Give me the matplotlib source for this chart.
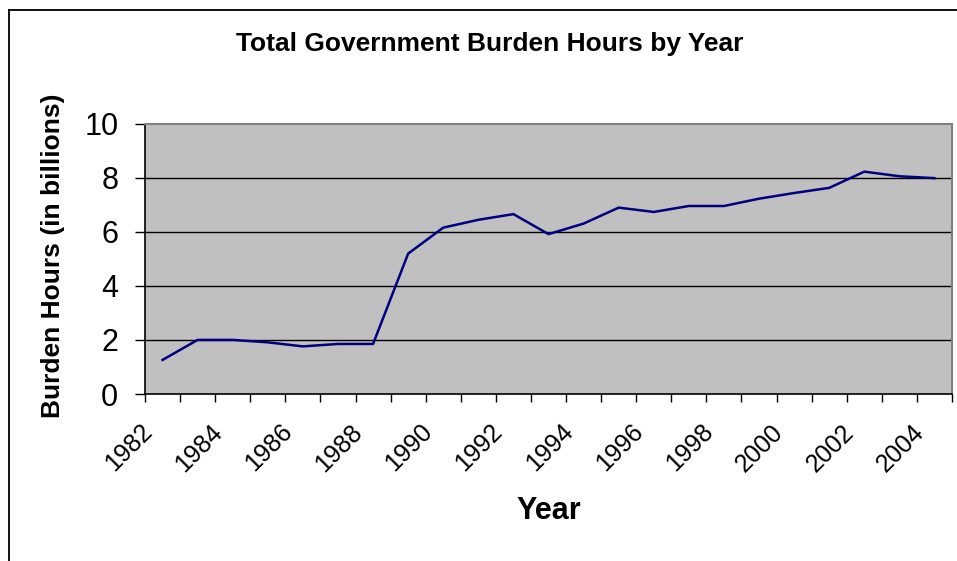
import matplotlib
matplotlib.use("Agg")
import matplotlib.pyplot as plt
from matplotlib.transforms import ScaledTranslation
import numpy as np

years = list(range(1982, 2005))
burden_hours = [1.26, 2.0, 2.0, 1.91, 1.76, 1.85, 1.85, 5.19, 6.15, 6.44, 6.65,
                5.91, 6.30, 6.89, 6.73, 6.95, 6.95, 7.22, 7.43, 7.62, 8.22, 8.05, 7.98]
y_ticks = [0, 2, 4, 6, 8, 10]

plt.rcParams["font.family"] = ["Liberation Sans", "DejaVu Sans"]

fig = plt.figure(figsize=(9.57, 5.61), dpi=100)

# outer chart frame (Excel style)
fig.add_artist(plt.Line2D([8.5 / 957, 8.5 / 957], [0, 1 - 10 / 561],
                          color="black", lw=1.3, transform=fig.transFigure))
fig.add_artist(plt.Line2D([8.5 / 957, 1], [1 - 10 / 561, 1 - 10 / 561],
                          color="black", lw=1.3, transform=fig.transFigure))

ax = fig.add_axes([145 / 957, 1 - 394 / 561, 807 / 957, 270.5 / 561])
ax.set_facecolor("#C0C0C0")

x = np.arange(len(years))
ax.plot(x, burden_hours, color="#000080", lw=1.8)

ax.set_xlim(-0.5, len(years) - 0.5)
ax.set_ylim(0, 10)
ax.set_yticks(y_ticks)
ax.set_yticklabels([str(v) for v in y_ticks], fontsize=22)
for v in y_ticks[1:-1]:
    ax.axhline(v, color="black", lw=1.0, zorder=1)

ax.set_xticks(x[::2])
ax.set_xticklabels([str(y) for y in years[::2]], rotation=45, ha="right",
                   va="top", rotation_mode="anchor", fontsize=18)
ax.tick_params(axis="x", which="major", length=0, pad=18.5)
shift = ScaledTranslation(-23 / 100, 0, fig.dpi_scale_trans)
for lbl in ax.get_xticklabels():
    lbl.set_transform(lbl.get_transform() + shift)
ax.set_xticks(np.arange(-0.5, len(years)), minor=True)
ax.tick_params(axis="x", which="minor", length=5.8, width=1, direction="out")
ax.tick_params(axis="y", length=7.2, width=1, direction="out", pad=12)

for side in ["top", "right"]:
    ax.spines[side].set_color("#808080")
    ax.spines[side].set_linewidth(1.5)
for side in ["left", "bottom"]:
    ax.spines[side].set_color("black")
    ax.spines[side].set_linewidth(1.2)

ax.set_ylabel("Burden Hours (in billions)", fontsize=19, fontweight="bold")
ax.yaxis.label.set_va("center")
ax.yaxis.set_label_coords(-0.114, 0.51)
ax.set_xlabel("Year", fontsize=22, fontweight="bold")
ax.xaxis.label.set_va("baseline")
ax.xaxis.set_label_coords(0.5006, -0.462)

fig.text(490 / 957, 1 - 44 / 561, "Total Government Burden Hours by Year",
         ha="center", va="center", fontsize=19, fontweight="bold")

fig.savefig("out.png", dpi=100)
